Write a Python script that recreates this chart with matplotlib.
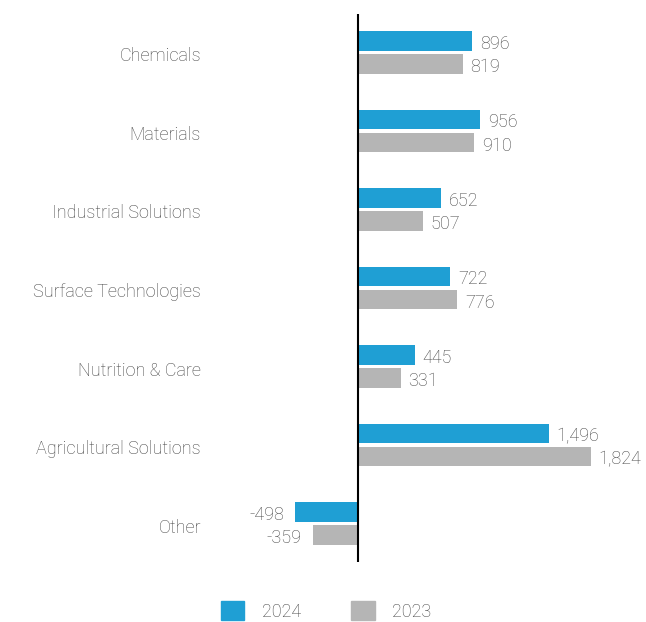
import matplotlib
matplotlib.use('Agg')
import matplotlib.pyplot as plt
import matplotlib.transforms as mtransforms
from matplotlib.patches import Patch

# segment results, million EUR
categories = ['Chemicals', 'Materials', 'Industrial Solutions', 'Surface Technologies',
              'Nutrition & Care', 'Agricultural Solutions', 'Other']
values_2024 = [896, 956, 652, 722, 445, 1496, -498]
values_2023 = [819, 910, 507, 776, 331, 1824, -359]

blue = '#1f9fd4'
grey = '#b5b5b5'
txt = '#444444'

plt.rcParams['font.family'] = ['Roboto', 'DejaVu Sans']
plt.rcParams['font.weight'] = 'light'

W, H = 646, 622
fig = plt.figure(figsize=(W / 100, H / 100), dpi=100)
ax = fig.add_axes([215 / W, 1 - 562 / H, (640 - 215) / W, (562 - 14) / H])

y = list(range(len(categories)))
off = 0.148
h = 0.25
ax.barh([i - off for i in y], values_2024, height=h, color=blue)
ax.barh([i + off for i in y], values_2023, height=h, color=grey)

# value labels
for i in y:
    for v, dy in ((values_2024[i], -off), (values_2023[i], off)):
        s = f'{v:,}'
        if v >= 0:
            ax.annotate(s, (v, i + dy), xytext=(5.5, -0.7), textcoords='offset points',
                        ha='left', va='center_baseline', fontsize=13, color=txt)
        else:
            ax.annotate(s, (v, i + dy), xytext=(-8, -0.7), textcoords='offset points',
                        ha='right', va='center_baseline', fontsize=13, color=txt)

ax.set_xlim(-1128, 2213)
ax.set_ylim(6.49, -0.49)
ax.axvline(0, color='black', lw=1.5)

ax.set_yticks(y)
ax.set_yticklabels(categories, fontsize=13, color=txt)
ax.tick_params(axis='y', length=0, pad=10)
ax.set_xticks([])
for sp in ax.spines.values():
    sp.set_visible(False)
shift = mtransforms.ScaledTranslation(0, -2 / 100, fig.dpi_scale_trans)
for lab in ax.get_yticklabels():
    lab.set_verticalalignment('center_baseline')
    lab.set_transform(lab.get_transform() + shift)

handles = [Patch(color=blue, label='2024'), Patch(color=grey, label='2023')]
fig.legend(handles=handles, loc='center', bbox_to_anchor=(326 / W, 1 - 611 / H),
           ncol=2, frameon=False, fontsize=13, labelcolor=txt,
           handlelength=1.3, handleheight=1.25, handletextpad=0.95, columnspacing=2.8)

fig.savefig('out.png', dpi=100)
